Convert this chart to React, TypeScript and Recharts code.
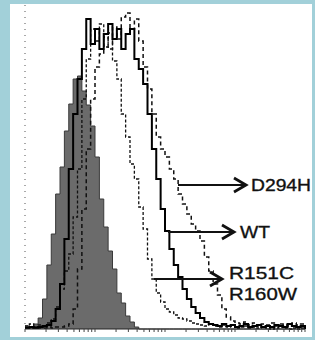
import React from 'react';
import { ComposedChart, Area, Line, XAxis, YAxis } from 'recharts';

// bin edges (channel units, 1024 channels = 4 decades)
const bins = [
  0, 16, 32, 48, 64, 80, 96, 112, 128, 144, 160, 176, 192, 208, 224, 240,
  256, 272, 288, 304, 320, 336, 352, 368, 384, 400, 416, 432, 448, 464, 480, 496,
  512, 528, 544, 560, 576, 592, 608, 624, 640, 656, 672, 688, 704, 720, 736, 752,
  768, 784, 800, 816, 832, 848, 864, 880, 896, 912, 928, 944, 960, 976, 992, 1008, 1024,
];

const control = [
  3, 2, 5, 11, 30, 64, 95, 135, 162, 198, 225, 250, 253, 238, 224, 203,
  172, 130, 102, 78, 60, 36, 26, 13, 7, 2, 0, 0, 0, 0, 0, 0,
  0, 0, 0, 0, 0, 0, 0, 0, 0, 0, 0, 0, 0, 0, 0, 0,
  0, 0, 0, 0, 0, 0, 0, 0, 0, 0, 0, 0, 0, 0, 0, 0, 0,
];

const r151c = [
  3, 5, 2, 4, 2, 6, 10, 22, 40, 58, 75, 112, 160, 230, 270, 300,
  288, 305, 282, 296, 268, 250, 215, 192, 165, 150, 122, 100, 70, 50, 36, 27,
  20, 17, 14, 11, 10, 8, 6, 5, 4, 3, 5, 3, 2, 4, 2, 3,
  1, 2, 3, 1, 2, 1, 2, 1, 0, 1, 2, 1, 0, 1, 0, 1, 0,
];

const wt = [
  1, 2, 1, 2, 3, 4, 8, 20, 45, 90, 160, 215, 250, 280, 310, 285,
  300, 280, 295, 305, 290, 300, 280, 295, 300, 270, 260, 245, 215, 180, 150, 120,
  98, 80, 64, 52, 40, 30, 22, 16, 11, 7, 5, 4, 3, 5, 3, 4,
  2, 3, 5, 2, 3, 4, 2, 3, 2, 4, 3, 2, 5, 3, 2, 3, 0,
];

const d294h = [
  1, 1, 2, 1, 1, 2, 1, 2, 2, 3, 5, 20, 60, 120, 180, 230,
  262, 275, 292, 280, 302, 290, 312, 316, 300, 310, 288, 262, 240, 215, 192, 180,
  172, 160, 150, 135, 125, 115, 105, 98, 88, 72, 58, 45, 34, 20, 12, 8,
  6, 5, 7, 4, 6, 3, 5, 4, 6, 3, 5, 4, 3, 6, 4, 5, 0,
];

// log decade ticks on the channel scale
const xTicks = [
  0, 77, 122, 154, 179, 199, 216, 231, 244,
  256, 333, 378, 410, 435, 455, 472, 487, 500,
  512, 589, 634, 666, 691, 711, 728, 743, 756,
  768, 845, 890, 922, 947, 967, 984, 999, 1012, 1024,
];

const rows = bins.map((ch, i) => ({
  ch,
  control: control[i] ?? 0,
  r151c: r151c[i] ?? 0,
  wt: wt[i] ?? 0,
  d294h: d294h[i] ?? 0,
}));

const font = '"Liberation Sans", Arial, sans-serif';

function Arrow({ x1, x2, y }: { x1: number; x2: number; y: number }) {
  return (
    <g stroke="#111" fill="none" strokeWidth={2}>
      <line x1={x1} y1={y} x2={x2} y2={y} />
      <polyline points={`${x2 - 12},${y - 7} ${x2},${y} ${x2 - 12},${y + 7}`} strokeWidth={2.8} />
    </g>
  );
}

export default function App() {
  return (
    <div style={{ position: 'absolute', left: 0, top: 0, width: 315, height: 340, background: '#a2d0d9', overflow: 'hidden' }}>
      <div style={{ position: 'absolute', left: 10, top: 4, width: 302, height: 333, background: '#ffffff' }} />
      <div style={{ position: 'absolute', left: 0, top: 0 }}>
        <ComposedChart width={315} height={340} data={rows} margin={{ top: 5, right: 10, bottom: 3, left: 21 }}>
          <XAxis
            dataKey="ch"
            type="number"
            domain={[0, 1024]}
            ticks={xTicks}
            interval={0}
            height={8}
            axisLine={{ stroke: '#222' }}
            tickLine={{ stroke: '#444' }}
            tickSize={3}
            tickFormatter={() => ''}
          />
          <YAxis
            type="number"
            domain={[0, 324]}
            width={4}
            axisLine={{ stroke: '#555', strokeDasharray: '1 5' }}
            tickLine={false}
            tick={false}
          />
          <Area
            dataKey="control"
            type="stepAfter"
            fill="#6b6b6b"
            fillOpacity={1}
            stroke="#3a3a3a"
            strokeWidth={1}
            isAnimationActive={false}
          />
          <Line dataKey="r151c" type="stepAfter" stroke="#111" strokeWidth={1.3} strokeDasharray="3 2" dot={false} isAnimationActive={false} />
          <Line dataKey="d294h" type="stepAfter" stroke="#111" strokeWidth={1.5} strokeDasharray="4 3" dot={false} isAnimationActive={false} />
          <Line dataKey="wt" type="stepAfter" stroke="#000" strokeWidth={2} dot={false} isAnimationActive={false} />
        </ComposedChart>
      </div>
      <svg width={315} height={340} style={{ position: 'absolute', left: 0, top: 0 }}>
        <Arrow x1={178} x2={246} y={185} />
        <Arrow x1={168} x2={234} y={232} />
        <Arrow x1={154} x2={222} y={279} />
        <g fill="#111" stroke="#111" strokeWidth={0.35} fontFamily={font} fontSize={17}>
          <text x={251} y={191} textLength={60} lengthAdjust="spacingAndGlyphs">D294H</text>
          <text x={240} y={238} textLength={30} lengthAdjust="spacingAndGlyphs">WT</text>
          <text x={229} y={279} textLength={65} lengthAdjust="spacingAndGlyphs">R151C</text>
          <text x={229} y={300} textLength={68} lengthAdjust="spacingAndGlyphs">R160W</text>
        </g>
      </svg>
    </div>
  );
}
